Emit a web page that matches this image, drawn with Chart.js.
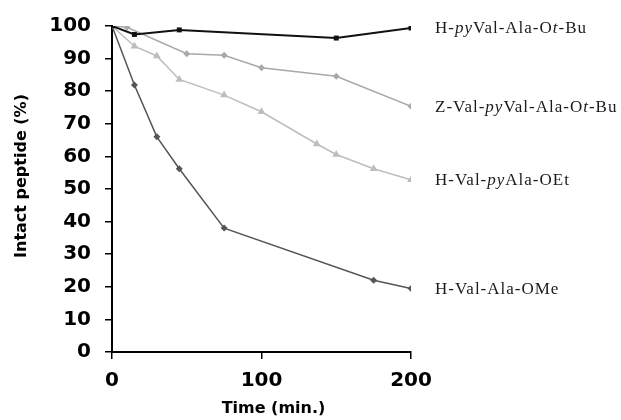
<!DOCTYPE html>
<html><head><meta charset="utf-8">
<script src="https://cdn.jsdelivr.net/npm/chart.js@4/dist/chart.umd.min.js"></script>
<style>html,body{margin:0;padding:0;background:#fff}#wrap{width:621px;height:420px}</style>
</head><body><div id="wrap"><canvas id="c" width="621" height="420"></canvas></div>
<script>
const xTitle = "Time (min.)";
const yTitle = "Intact peptide (%)";
const xTicks = [0, 100, 200];
const yTicks = [0, 10, 20, 30, 40, 50, 60, 70, 80, 90, 100];

const s1x = [0, 15, 45, 150, 200];
const s1y = [100, 97.4, 98.8, 96.3, 99.4];
const s2x = [0, 10, 50, 75, 100, 150, 200];
const s2y = [100, 99.6, 91.5, 91, 87.2, 84.6, 75.4];
const s3x = [0, 15, 30, 45, 75, 100, 137, 150, 175, 200];
const s3y = [100, 93.8, 90.8, 83.6, 78.8, 73.7, 63.8, 60.6, 56.2, 52.8];
const s4x = [0, 15, 30, 45, 75, 175, 200];
const s4y = [100, 81.9, 66, 56.2, 38, 22, 19.5];

// label parts: [text, italic]
const label1 = [["H-",0],["py",1],["Val-Ala-O",0],["t",1],["-Bu",0]];
const label2 = [["Z-Val-",0],["py",1],["Val-Ala-O",0],["t",1],["-Bu",0]];
const label3 = [["H-Val-",0],["py",1],["Ala-OEt",0]];
const label4 = [["H-Val-Ala-OMe",0]];

const pts = (xs, ys) => xs.map((x, i) => ({x: x, y: ys[i]}));

const seriesLabels = [label1, label2, label3, label4];

const endLabels = {
  id: 'endLabels',
  afterDatasetsDraw(chart) {
    const ctx = chart.ctx;
    ctx.save();
    ctx.fillStyle = '#1a1a1a';
    ctx.textBaseline = 'middle';
    ctx.textAlign = 'left';
    try { ctx.letterSpacing = '1px'; } catch (e) {}
    chart.data.datasets.forEach((ds, i) => {
      const meta = chart.getDatasetMeta(i);
      const last = meta.data[meta.data.length - 1];
      let x = last.x + 24;
      const y = last.y + 1;
      seriesLabels[i].forEach(([t, it]) => {
        ctx.font = (it ? 'italic ' : '') + '17px "Liberation Serif"';
        ctx.fillText(t, x, y);
        x += ctx.measureText(t).width;
      });
    });
    ctx.restore();
  }
};

const axisTitles = {
  id: 'axisTitles',
  afterDraw(chart) {
    const ctx = chart.ctx;
    const ca = chart.chartArea;
    ctx.save();
    ctx.fillStyle = '#000';
    ctx.font = 'bold 16px "DejaVu Sans"';
    ctx.textAlign = 'center';
    ctx.textBaseline = 'middle';
    ctx.fillText(xTitle, (ca.left + ca.right) / 2 + 12, 409);
    ctx.translate(22, (ca.top + ca.bottom) / 2 - 13);
    ctx.rotate(-Math.PI / 2);
    ctx.fillText(yTitle, 0, 0);
    ctx.restore();
  }
};

const tickFont = {family: '"DejaVu Sans"', size: 20, weight: 'bold'};
new Chart(document.getElementById('c'), {
  type: 'line',
  data: {
    datasets: [
      {data: pts(s1x, s1y), borderColor: '#111', backgroundColor: '#111', borderWidth: 2, pointStyle: 'rect', pointRadius: 3.5, pointBorderWidth: 0},
      {data: pts(s2x, s2y), borderColor: '#a9a9a9', backgroundColor: '#a9a9a9', borderWidth: 1.5, pointStyle: 'rectRot', pointRadius: 3.5, pointBorderWidth: 0},
      {data: pts(s3x, s3y), borderColor: '#bdbdbd', backgroundColor: '#bdbdbd', borderWidth: 1.5, pointStyle: 'triangle', pointRadius: 4.5, pointBorderWidth: 0},
      {data: pts(s4x, s4y), borderColor: '#555', backgroundColor: '#555', borderWidth: 1.5, pointStyle: 'rectRot', pointRadius: 3.5, pointBorderWidth: 0}
    ]
  },
  options: {
    responsive: false,
    animation: false,
    layout: {padding: {left: 0, right: 210, top: 20, bottom: 0}},
    plugins: {legend: {display: false}, tooltip: {enabled: false}},
    scales: {
      x: {
        type: 'linear', min: 0, max: 200,
        afterBuildTicks: (s) => { s.ticks = xTicks.map(v => ({value: v})); },
        afterFit: (s) => { s.height = 68; },
        border: {color: '#000', width: 2},
        grid: {drawOnChartArea: false, drawTicks: true, tickLength: 7, color: '#000', lineWidth: 1.5},
        ticks: {color: '#000', font: tickFont, padding: 10, maxRotation: 0},
        title: {display: false}
      },
      y: {
        min: 0, max: 100,
        afterBuildTicks: (s) => { s.ticks = yTicks.map(v => ({value: v})); },
        afterFit: (s) => { s.width = 112; },
        border: {color: '#000', width: 2},
        grid: {drawOnChartArea: false, drawTicks: true, tickLength: 7, color: '#000', lineWidth: 1.5},
        ticks: {color: '#000', font: tickFont, padding: 14},
        title: {display: false}
      }
    }
  },
  plugins: [endLabels, axisTitles]
});
</script></body></html>
